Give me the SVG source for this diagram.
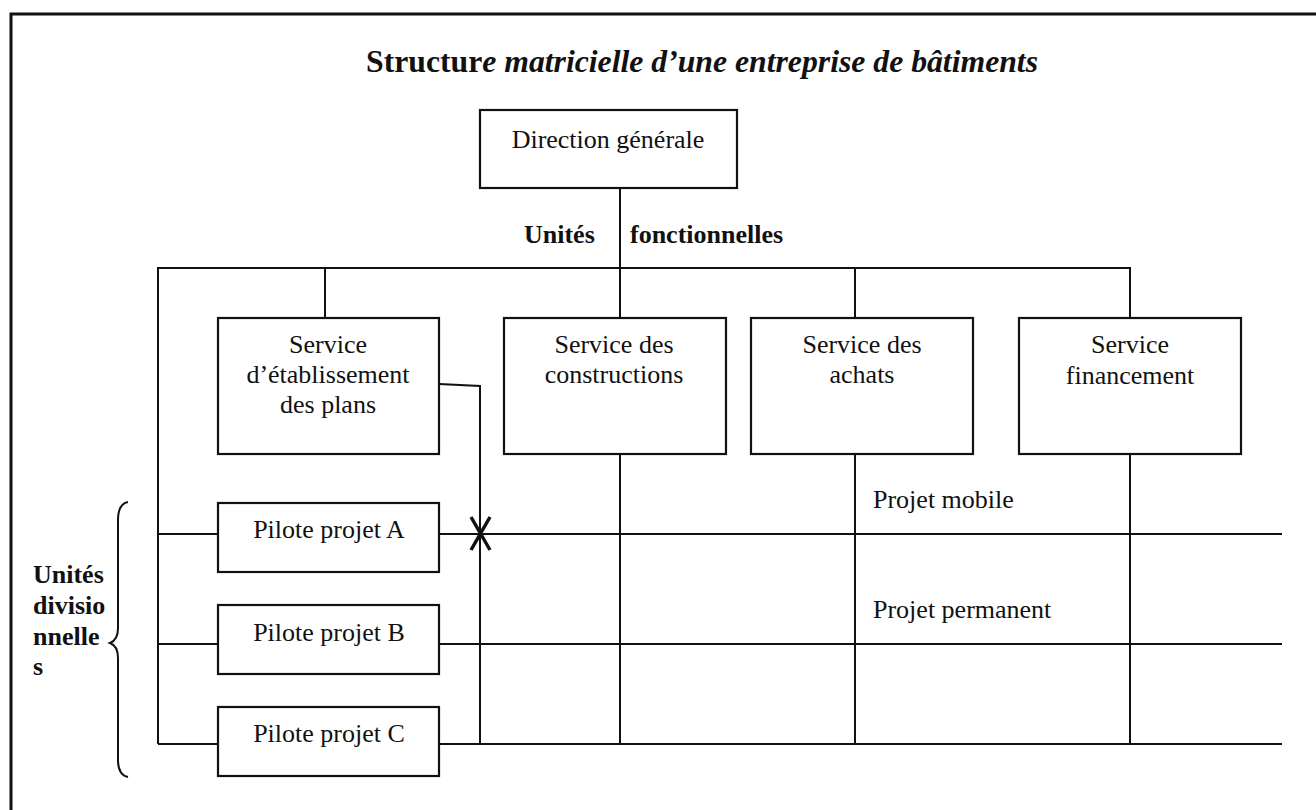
<svg xmlns="http://www.w3.org/2000/svg" width="1316" height="810" viewBox="0 0 1316 810">
<style>
text{font-family:"Liberation Serif","Times New Roman",serif;fill:#111}
.t{font-size:26px;text-anchor:middle}
.b{font-weight:bold}
.box{fill:#fff;stroke:#111;stroke-width:2.2}
.ln{fill:none;stroke:#111;stroke-width:2}
</style>
<rect width="1316" height="810" fill="#fff"/>
<path class="ln" d="M11,810 V14 H1316" style="stroke-width:3"/>
<text id="title" x="366" y="72" font-size="32" font-weight="bold" textLength="672" lengthAdjust="spacingAndGlyphs">Structur<tspan font-style="italic">e matricielle d’une entreprise de bâtiments</tspan></text>
<g id="connectors">
<path class="ln" d="M620,188 V744"/>
<path class="ln" d="M158,744 V268 H1130 V744"/>
<path class="ln" d="M325,268 V318"/>
<path class="ln" d="M855,268 V744"/>
<path class="ln" d="M439,384 L480,386 V744"/>
<path class="ln" d="M158,534 H218 M439,534 H1282"/>
<path class="ln" d="M158,644 H218 M439,644 H1282"/>
<path class="ln" d="M158,744 H218 M439,744 H1282"/>
<path class="ln" d="M471,517 L490,550 M490,517 L471,550" style="stroke-width:3.5"/>
</g>
<g id="direction"><rect class="box" x="480" y="110" width="257" height="78"/><text class="t" x="608" y="148">Direction générale</text></g>
<text id="lbl-unites" class="b" x="524" y="243" font-size="26">Unités</text>
<text id="lbl-fonct" class="b" x="630" y="243" font-size="26">fonctionnelles</text>
<g id="svc-plans"><rect class="box" x="218" y="318" width="221" height="136"/><text class="t" x="328" y="353">Service</text><text class="t" x="328" y="383">d’établissement</text><text class="t" x="328" y="413">des plans</text></g>
<g id="svc-constr"><rect class="box" x="504" y="318" width="222" height="136"/><text class="t" x="614" y="353">Service des</text><text class="t" x="614" y="383">constructions</text></g>
<g id="svc-achats"><rect class="box" x="751" y="318" width="222" height="136"/><text class="t" x="862" y="353">Service des</text><text class="t" x="862" y="383">achats</text></g>
<g id="svc-fin"><rect class="box" x="1019" y="318" width="222" height="136"/><text class="t" x="1130" y="353">Service</text><text class="t" x="1130" y="384">financement</text></g>
<g id="pilote-a"><rect class="box" x="218" y="503" width="221" height="69"/><text class="t" x="329" y="538">Pilote projet A</text></g>
<g id="pilote-b"><rect class="box" x="218" y="605" width="221" height="69"/><text class="t" x="329" y="641">Pilote projet B</text></g>
<g id="pilote-c"><rect class="box" x="218" y="707" width="221" height="69"/><text class="t" x="329" y="742">Pilote projet C</text></g>
<text id="lbl-mobile" x="873" y="508" font-size="26">Projet mobile</text>
<text id="lbl-perm" x="873" y="618" font-size="26">Projet permanent</text>
<g id="unites-div">
<path class="ln" d="M128,502 Q118,504 118,520 V628 Q118,640 110,643 Q118,646 118,658 V760 Q118,775 128,777"/>
<text class="b" x="33" y="583" font-size="26">Unités</text>
<text class="b" x="33" y="614" font-size="26">divisio</text>
<text class="b" x="33" y="645" font-size="26">nnelle</text>
<text class="b" x="33" y="675" font-size="26">s</text>
</g>
</svg>
